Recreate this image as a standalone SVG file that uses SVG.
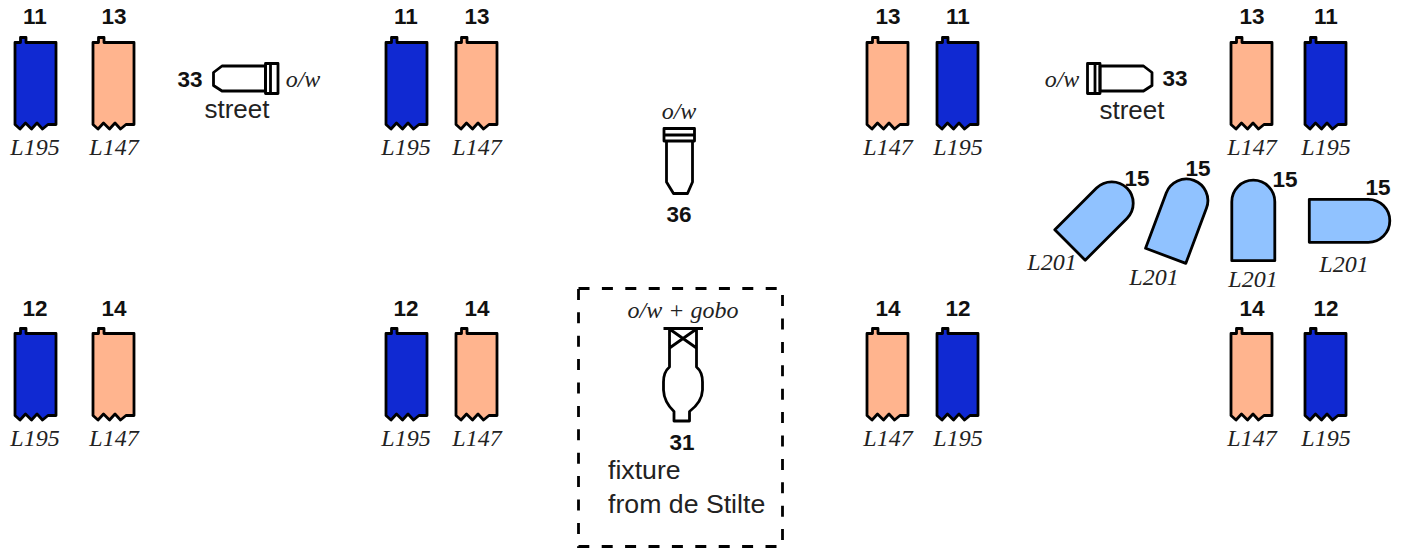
<svg xmlns="http://www.w3.org/2000/svg" width="1404" height="548" viewBox="0 0 1404 548">
<style>
text{fill:#111}
.n{font:bold 22.500px "Liberation Sans",Arial,sans-serif;text-anchor:middle}
.g{font:italic 24px "Liberation Serif","Times New Roman",serif;text-anchor:middle;fill:#222}
.t{font:26px "Liberation Sans",Arial,sans-serif;fill:#222}
.f{font-size:26.700px}
.s{stroke:#000;stroke-width:2.800;stroke-linejoin:round;fill:none}
.b{fill:#1029d2}.o{fill:#ffb48e}.l{fill:#90c2ff}
</style>
<defs>
<path id="par" d="M0 0H5.500V-5H11V0H41V82H33L27.500 86.500L22 80.500L16.500 86.500L10.500 80.500L5 86.500L0 82Z"/>
<path id="cyc" d="M-21.500 0V-59A21.500 21.500 0 0 1 21.500 -59V0Z"/>
<g id="lamp"><path d="M0 6.500L8.500 0H52V25H8.500L0 19.500Z"/><path d="M52 -2.500H64.500V27.500H52ZM57 -2.500V27.500"/></g>
</defs>
<rect width="1404" height="548" fill="#fff"/>
<g id="p11a"><use href="#par" x="15" y="42.500" class="s b"/><text class="n" x="35" y="24">11</text><text class="g" x="35" y="155">L195</text></g>
<g id="p13a"><use href="#par" x="93" y="42.500" class="s o"/><text class="n" x="114" y="24">13</text><text class="g" x="114" y="155">L147</text></g>
<g id="p11b"><use href="#par" x="386" y="42.500" class="s b"/><text class="n" x="406" y="24">11</text><text class="g" x="406" y="155">L195</text></g>
<g id="p13b"><use href="#par" x="456" y="42.500" class="s o"/><text class="n" x="477" y="24">13</text><text class="g" x="477" y="155">L147</text></g>
<g id="p13c"><use href="#par" x="867" y="42.500" class="s o"/><text class="n" x="888" y="24">13</text><text class="g" x="888" y="155">L147</text></g>
<g id="p11c"><use href="#par" x="937" y="42.500" class="s b"/><text class="n" x="958" y="24">11</text><text class="g" x="958" y="155">L195</text></g>
<g id="p13d"><use href="#par" x="1231" y="42.500" class="s o"/><text class="n" x="1252" y="24">13</text><text class="g" x="1252" y="155">L147</text></g>
<g id="p11d"><use href="#par" x="1305" y="42.500" class="s b"/><text class="n" x="1326" y="24">11</text><text class="g" x="1326" y="155">L195</text></g>
<g id="p12a"><use href="#par" x="15" y="333.500" class="s b"/><text class="n" x="35" y="316">12</text><text class="g" x="35" y="446">L195</text></g>
<g id="p14a"><use href="#par" x="93" y="333.500" class="s o"/><text class="n" x="114" y="316">14</text><text class="g" x="114" y="446">L147</text></g>
<g id="p12b"><use href="#par" x="386" y="333.500" class="s b"/><text class="n" x="406" y="316">12</text><text class="g" x="406" y="446">L195</text></g>
<g id="p14b"><use href="#par" x="456" y="333.500" class="s o"/><text class="n" x="477" y="316">14</text><text class="g" x="477" y="446">L147</text></g>
<g id="p14c"><use href="#par" x="867" y="333.500" class="s o"/><text class="n" x="888" y="316">14</text><text class="g" x="888" y="446">L147</text></g>
<g id="p12c"><use href="#par" x="937" y="333.500" class="s b"/><text class="n" x="958" y="316">12</text><text class="g" x="958" y="446">L195</text></g>
<g id="p14d"><use href="#par" x="1231" y="333.500" class="s o"/><text class="n" x="1252" y="316">14</text><text class="g" x="1252" y="446">L147</text></g>
<g id="p12d"><use href="#par" x="1305" y="333.500" class="s b"/><text class="n" x="1326" y="316">12</text><text class="g" x="1326" y="446">L195</text></g>
<g id="lamp33a"><use href="#lamp" transform="translate(213.500 66)" class="s"/><text class="n" x="190" y="87">33</text><text class="t" x="237" y="118" text-anchor="middle">street</text><text class="g" x="303" y="87">o/w</text></g>
<g id="lamp33b"><use href="#lamp" transform="translate(1152 66) scale(-1 1)" class="s"/><text class="n" x="1175" y="86">33</text><text class="t" x="1132" y="119" text-anchor="middle">street</text><text class="g" x="1062" y="87">o/w</text></g>
<g id="lamp36"><path class="s" d="M664 128.500H694.500V141H664ZM664 135H694.500M666.500 141V182L673.500 193.500H687.500L692.500 182V141"/><text class="g" x="679" y="119">o/w</text><text class="n" x="679" y="222">36</text></g>
<g id="lamp31"><path class="s" d="M663.500 328.500H703M669.500 328.500V367Q663.500 372 663.500 382V390Q664 402 674 411.500V421H689.500V411.500Q702 402 702.500 390V382Q702.500 372 696.500 367V328.500M669.500 329L696.500 348M696.500 329L669.500 348"/><text class="g" x="683" y="318">o/w + gobo</text><text class="n" x="682" y="450">31</text><text class="t f" x="608" y="479">fixture</text><text class="t f" x="608" y="513">from de Stilte</text></g>
<rect id="frame" x="578.500" y="288.500" width="204" height="258" fill="none" stroke="#000" stroke-width="2.800" stroke-dasharray="11 12.400"/>
<g id="cyc1"><use href="#cyc" transform="translate(1070 245) rotate(45)" class="s l"/><text class="n" x="1137" y="186">15</text><text class="g" x="1052" y="270">L201</text></g>
<g id="cyc2"><use href="#cyc" transform="translate(1165.700 255.800) rotate(20.500)" class="s l"/><text class="n" x="1198" y="176">15</text><text class="g" x="1154" y="285">L201</text></g>
<g id="cyc3"><use href="#cyc" transform="translate(1253.300 260.700)" class="s l"/><text class="n" x="1285" y="187">15</text><text class="g" x="1253" y="287">L201</text></g>
<g id="cyc4"><use href="#cyc" transform="translate(1309.300 220.800) rotate(90)" class="s l"/><text class="n" x="1378" y="195">15</text><text class="g" x="1344" y="272">L201</text></g>
<g id="connectors"/>
</svg>
